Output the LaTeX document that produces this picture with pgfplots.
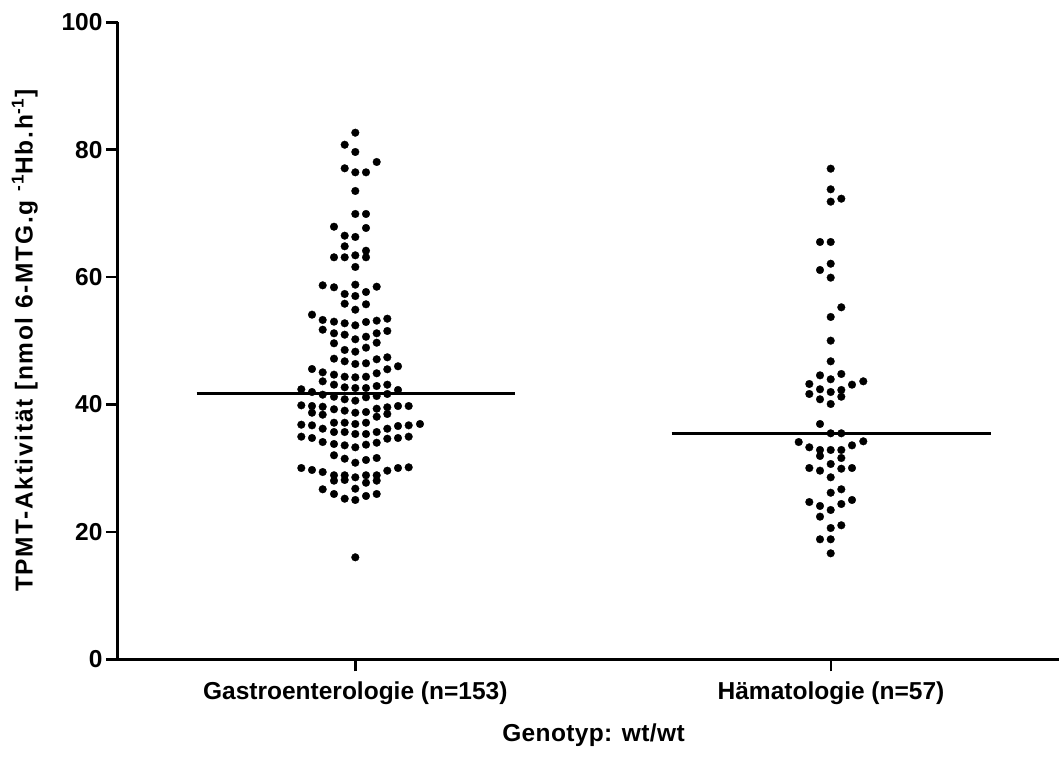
\documentclass[border=0pt]{standalone}
\usepackage{pgfplots}
\pgfplotsset{compat=1.18}
\usepackage{fontspec}
\setmainfont{Liberation Sans}
\pgfplotstableread{
x y
355.3 82.67
344.7 80.78
355.3 79.64
376.7 78.07
344.7 77.08
355.3 76.45
366.0 76.45
355.3 73.52
355.3 69.91
366.0 69.91
334.0 67.91
366.0 67.71
344.7 66.50
355.3 66.30
344.7 64.84
366.0 64.14
334.0 63.11
344.7 63.11
355.3 63.42
366.0 63.11
355.3 61.59
322.7 58.71
334.0 58.40
355.3 58.81
376.7 58.49
344.7 57.35
355.3 57.03
366.0 57.66
344.7 55.82
366.0 55.73
355.3 54.88
312.0 54.10
322.7 53.27
334.0 53.00
344.7 52.75
355.3 52.43
366.0 52.95
376.7 53.16
387.3 53.47
322.7 51.74
334.0 51.18
344.7 50.96
355.3 50.24
366.0 50.64
376.7 51.18
387.3 51.54
334.0 49.61
344.7 48.56
355.3 48.29
366.0 48.92
376.7 49.70
334.0 47.19
344.7 46.78
355.3 46.36
366.0 46.47
376.7 47.10
387.3 47.41
312.0 45.57
322.7 45.05
334.0 44.68
344.7 44.36
355.3 44.27
366.0 44.36
376.7 44.90
387.3 45.53
398.0 46.00
322.7 43.64
334.0 43.11
344.7 42.70
355.3 42.59
366.0 42.59
376.7 42.90
387.3 43.11
301.3 42.39
312.0 41.96
398.0 42.28
322.7 41.54
334.0 41.22
344.7 40.82
355.3 40.60
366.0 41.13
376.7 41.33
387.3 41.65
301.3 39.87
312.0 39.76
312.0 38.71
322.7 39.65
322.7 38.40
334.0 39.25
344.7 39.03
355.3 38.71
366.0 38.82
376.7 39.34
376.7 38.08
387.3 39.56
387.3 38.51
398.0 39.76
408.7 39.76
301.3 36.83
312.0 36.73
322.7 36.20
334.0 37.14
334.0 35.68
344.7 37.14
344.7 35.68
355.3 36.94
355.3 35.37
366.0 37.14
366.0 35.37
376.7 35.68
387.3 36.20
398.0 36.62
408.7 36.73
420.0 36.94
301.3 34.95
312.0 34.74
322.7 34.11
334.0 33.80
344.7 33.59
355.3 33.28
366.0 33.69
376.7 34.00
387.3 34.63
398.0 34.74
408.7 34.95
334.0 32.03
344.7 31.49
355.3 30.86
366.0 31.29
376.7 31.60
301.3 30.03
312.0 29.72
322.7 29.40
334.0 28.89
334.0 28.04
344.7 28.89
344.7 28.15
355.3 28.57
366.0 28.89
366.0 27.72
376.7 28.89
376.7 28.04
387.3 29.61
398.0 30.03
408.7 30.14
322.7 26.69
334.0 25.95
344.7 25.21
355.3 26.78
355.3 25.01
366.0 25.64
376.7 25.95
355.3 16.01
}\gastro
\pgfplotstableread{
x y
830.7 77.02
830.7 73.78
830.7 71.84
841.3 72.31
820.0 65.51
830.7 65.51
830.7 62.10
820.0 61.11
830.7 59.91
841.3 55.26
830.7 53.74
830.7 50.02
830.7 46.78
820.0 44.58
830.7 43.96
841.3 44.79
809.3 43.22
820.0 42.39
830.7 41.96
841.3 42.28
841.3 41.22
852.0 43.11
863.3 43.64
809.3 41.65
820.0 40.82
830.7 40.08
820.0 36.94
830.7 35.48
841.3 35.48
798.7 34.11
809.3 33.28
820.0 32.86
820.0 31.92
830.7 32.86
841.3 32.86
841.3 31.60
852.0 33.59
863.3 34.22
809.3 30.03
820.0 29.61
830.7 30.66
841.3 29.92
852.0 30.03
830.7 28.57
830.7 26.15
841.3 26.69
809.3 24.69
820.0 24.07
830.7 23.44
841.3 24.38
852.0 25.01
820.0 22.39
830.7 20.61
841.3 21.04
820.0 18.84
830.7 18.84
830.7 16.64
}\haema
\begin{document}
\begin{tikzpicture}
\path[use as bounding box] (-118pt,-100.7pt) rectangle (941pt,659.3pt);
\begin{axis}[
  scale only axis, width=941pt, height=637pt,
  xmin=118, xmax=1059, ymin=0, ymax=100,
  clip=false,
  axis x line*=bottom, axis y line*=left,
  axis line style={line width=3pt, -},
  xtick={355.3,831},
  xticklabels={Gastroenterologie (n=153), Hämatologie (n=57)},
  ytick={0,20,40,60,80,100},
  tick align=outside, major tick length=12pt,
  every tick/.style={black, line width=2.5pt},
  /pgf/number format/assume math mode=true,
  ticklabel style={font=\bfseries\fontsize{24.5}{28}\selectfont},
  xticklabel style={yshift=-7pt},
  ylabel={TPMT-Aktivität [nmol 6-MTG.g\hspace{9pt}\textsuperscript{-1}Hb.h\textsuperscript{-1}]},
  ylabel style={font=\bfseries\fontsize{24.5}{28}\selectfont\addfontfeature{LetterSpace=7}, at={(axis description cs:-0.099,0.5)}, anchor=center},
  xlabel={Genotyp: wt/wt},
  xlabel style={font=\bfseries\fontsize{24.5}{28}\selectfont\addfontfeature{LetterSpace=1.5}, at={(axis description cs:0.5,-0.119)}, anchor=center, xshift=5pt},
]
\addplot[black, line width=3pt] coordinates {(196.7,41.65) (515,41.65)};
\addplot[black, line width=3pt] coordinates {(671.7,35.42) (990.7,35.42)};
\addplot[only marks, mark=*, mark size=3.9pt, mark options={fill=black, draw=black, line width=0.2pt}] table {\gastro};
\addplot[only marks, mark=*, mark size=3.9pt, mark options={fill=black, draw=black, line width=0.2pt}] table {\haema};
\end{axis}
\end{tikzpicture}
\end{document}
